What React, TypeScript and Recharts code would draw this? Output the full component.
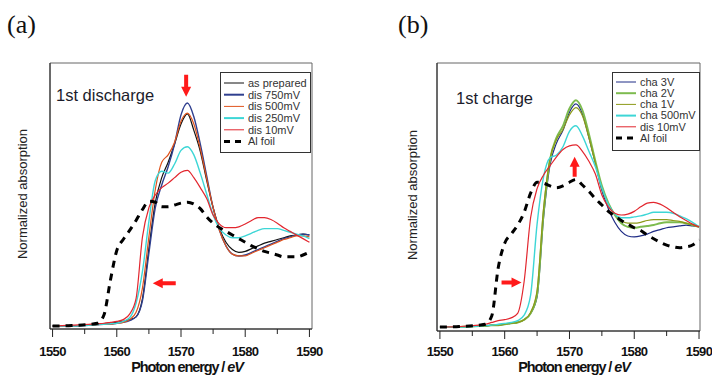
import { Line, LineChart, ReferenceArea, ReferenceDot, ReferenceLine, XAxis, YAxis } from 'recharts'

const FONT = "'Liberation Sans', Arial, sans-serif"

// photon energy grid (eV)
const energies = [
  1550, 1553, 1556, 1557, 1558, 1559, 1560, 1561, 1562, 1563, 1564, 1565, 1566, 1567, 1568, 1569, 1570, 1571, 1572,
  1573, 1574, 1575, 1576, 1577, 1578, 1579, 1580, 1581, 1582, 1583, 1584, 1585, 1586, 1587, 1588, 1589, 1590,
]
const xTicks = [1550, 1555, 1560, 1565, 1570, 1575, 1580, 1585, 1590]

// (a) 1st discharge
const asPrepared = [
  0, 0, 0.01, 0.015, 0.02, 0.03, 0.04, 0.05, 0.07, 0.1, 0.3, 0.85, 1.36, 1.63, 1.8, 2.0, 2.22, 2.33, 2.15, 1.92, 1.6,
  1.3, 1.07, 0.92, 0.84, 0.81, 0.82, 0.85, 0.88, 0.91, 0.93, 0.95, 0.97, 0.99, 1.0, 1.01, 1.0,
]
const dis750 = [
  0, 0, 0.01, 0.015, 0.02, 0.02, 0.03, 0.04, 0.06, 0.1, 0.28, 0.8, 1.3, 1.55, 1.75, 2.0, 2.32, 2.45, 2.3, 2.0, 1.65,
  1.3, 1.05, 0.88, 0.79, 0.77, 0.78, 0.81, 0.84, 0.87, 0.9, 0.93, 0.96, 0.98, 1.0, 1.01, 1.0,
]
const dis500 = [
  0, 0, 0.01, 0.015, 0.02, 0.02, 0.03, 0.04, 0.07, 0.15, 0.42, 0.98, 1.5, 1.8, 1.88, 2.02, 2.25, 2.34, 2.22, 1.95,
  1.62, 1.3, 1.05, 0.88, 0.79, 0.77, 0.77, 0.8, 0.83, 0.86, 0.89, 0.92, 0.95, 0.97, 0.99, 0.99, 0.98,
]
const dis250 = [
  0, 0, 0.01, 0.015, 0.02, 0.025, 0.03, 0.05, 0.09, 0.25, 0.6, 1.15, 1.6, 1.7, 1.68, 1.78, 1.93, 1.97, 1.88, 1.68,
  1.45, 1.22, 1.07, 1.0, 0.97, 0.97, 0.99, 1.02, 1.05, 1.07, 1.07, 1.07, 1.05, 1.03, 1.01, 0.99, 0.96,
]
const dis10A = [
  0, 0.01, 0.02, 0.025, 0.03, 0.04, 0.05, 0.07, 0.13, 0.3, 0.98, 1.3, 1.44, 1.52, 1.57, 1.63, 1.69, 1.71, 1.63, 1.52,
  1.4, 1.22, 1.12, 1.08, 1.08, 1.09, 1.12, 1.16, 1.19, 1.19, 1.17, 1.13, 1.08, 1.04, 1.0, 0.96, 0.92,
]
const alFoilA = [
  0, 0.005, 0.02, 0.03, 0.12, 0.5, 0.83, 0.95, 1.05, 1.16, 1.28, 1.37, 1.36, 1.31, 1.31, 1.33, 1.35, 1.36, 1.34, 1.29,
  1.2, 1.13, 1.08, 1.04, 1.0, 0.96, 0.92, 0.88, 0.85, 0.82, 0.8, 0.78, 0.76, 0.76, 0.76, 0.78, 0.81,
]

// (b) 1st charge
const cha3V = [
  0, 0, 0.01, 0.01, 0.02, 0.02, 0.03, 0.04, 0.05, 0.08, 0.15, 0.33, 1.2, 1.78, 2.02, 2.16, 2.36, 2.45, 2.34, 2.08, 1.8,
  1.5, 1.3, 1.15, 1.05, 1.0, 0.99, 1.0, 1.02, 1.05, 1.07, 1.09, 1.1, 1.11, 1.12, 1.11, 1.1,
]
const cha2V = [
  0, 0, 0.01, 0.01, 0.02, 0.02, 0.03, 0.04, 0.05, 0.08, 0.15, 0.36, 1.25, 1.84, 2.08, 2.21, 2.4, 2.49, 2.38, 2.12,
  1.82, 1.55, 1.36, 1.23, 1.14, 1.1, 1.09, 1.1, 1.11, 1.12, 1.14, 1.15, 1.15, 1.15, 1.14, 1.12, 1.1,
]
const cha1V = [
  0, 0, 0.01, 0.01, 0.02, 0.02, 0.03, 0.04, 0.05, 0.08, 0.16, 0.4, 1.3, 1.85, 2.06, 2.17, 2.33, 2.41, 2.32, 2.08, 1.8,
  1.52, 1.35, 1.24, 1.17, 1.14, 1.14, 1.15, 1.17, 1.18, 1.18, 1.18, 1.17, 1.16, 1.14, 1.12, 1.1,
]
const cha500 = [
  0, 0, 0.01, 0.015, 0.02, 0.03, 0.04, 0.05, 0.07, 0.13, 0.35, 1.13, 1.65, 1.86, 1.89, 1.98, 2.15, 2.21, 2.1, 1.93,
  1.76, 1.53, 1.35, 1.24, 1.2, 1.2, 1.21, 1.22, 1.24, 1.26, 1.26, 1.26, 1.25, 1.22, 1.19, 1.15, 1.1,
]
const dis10B = [
  0, 0.005, 0.02, 0.03, 0.05, 0.07, 0.08, 0.1, 0.15, 0.5, 1.2, 1.52, 1.67, 1.77, 1.87, 1.95, 1.99, 2.0, 1.93, 1.82,
  1.68, 1.45, 1.32, 1.25, 1.23, 1.24, 1.27, 1.32, 1.36, 1.37, 1.35, 1.31, 1.26, 1.21, 1.17, 1.13, 1.1,
]
const alFoilB = [
  0, 0.005, 0.02, 0.03, 0.12, 0.65, 0.92, 1.02, 1.12, 1.26, 1.47, 1.59, 1.58, 1.55, 1.53, 1.55, 1.59, 1.62, 1.56, 1.49,
  1.41, 1.34, 1.27, 1.22, 1.17, 1.13, 1.09, 1.06, 1.01, 0.97, 0.93, 0.9, 0.88, 0.87, 0.88, 0.9, 0.96,
]

type Series = {
  key: string
  name: string
  values: number[]
  color: string
  width: number
  legendWidth: number
  dash?: string
}

type Arrow = { x: number; y: number; dir: 'up' | 'down' | 'left' | 'right'; len: number }

type PanelConfig = {
  tag: string
  title: string
  series: Series[]
  arrows: Arrow[]
  left: number
  width: number
  margin: { top: number; right: number; bottom: number; left: number }
  xDomain: [number, number]
  yDomain: [number, number]
  labelDy: number
  tagX: number
  titleX: number
  titleY: number
  yLabelX: number
  xTitleX: number
  legend: { x: number; y: number; w: number; h: number; rowY: number; pitch: number }
}

const foil = (values: number[]): Series => ({
  key: 'al',
  name: 'Al foil',
  values,
  color: '#000',
  width: 3,
  legendWidth: 3,
  dash: '7 6',
})

const panels: PanelConfig[] = [
  {
    tag: '(a)',
    title: '1st discharge',
    series: [
      { key: 'p', name: 'as prepared', values: asPrepared, color: '#111', width: 1.2, legendWidth: 1 },
      { key: 'd750', name: 'dis 750mV', values: dis750, color: '#2f3f8f', width: 1.4, legendWidth: 2 },
      { key: 'd500', name: 'dis 500mV', values: dis500, color: '#e0531c', width: 1.2, legendWidth: 1 },
      { key: 'd250', name: 'dis 250mV', values: dis250, color: '#3dd6d6', width: 1.4, legendWidth: 2 },
      { key: 'd10', name: 'dis 10mV', values: dis10A, color: '#e2262e', width: 1.2, legendWidth: 1 },
      foil(alFoilA),
    ],
    arrows: [
      { x: 1570.8, y: 2.52, dir: 'down', len: 22 },
      { x: 1565.6, y: 0.47, dir: 'left', len: 23 },
    ],
    left: 0,
    width: 356,
    margin: { top: 63, right: 44, bottom: 17, left: 50 },
    xDomain: [1549.6, 1590.4],
    yDomain: [-0.033, 2.89],
    labelDy: 27,
    tagX: 7,
    titleX: 56,
    titleY: 86,
    yLabelX: 23,
    xTitleX: 187,
    legend: { x: 220, y: 72, w: 90, h: 80, rowY: 83, pitch: 11.7 },
  },
  {
    tag: '(b)',
    title: '1st charge',
    series: [
      { key: 'c3', name: 'cha 3V', values: cha3V, color: '#1f2c86', width: 1.2, legendWidth: 1 },
      { key: 'c2', name: 'cha 2V', values: cha2V, color: '#7dbb4f', width: 2, legendWidth: 2 },
      { key: 'c1', name: 'cha 1V', values: cha1V, color: '#8c9a18', width: 1.2, legendWidth: 1 },
      { key: 'c500', name: 'cha 500mV', values: cha500, color: '#3dd6d6', width: 1.4, legendWidth: 2 },
      { key: 'd10', name: 'dis 10mV', values: dis10B, color: '#e2262e', width: 1.2, legendWidth: 1 },
      foil(alFoilB),
    ],
    arrows: [
      { x: 1570.8, y: 1.87, dir: 'up', len: 20 },
      { x: 1562.6, y: 0.49, dir: 'right', len: 20 },
    ],
    left: 356,
    width: 356,
    margin: { top: 63, right: 12, bottom: 15, left: 81 },
    xDomain: [1549.55, 1590.15],
    yDomain: [-0.044, 2.9],
    labelDy: 25,
    tagX: 398,
    titleX: 456,
    titleY: 89,
    yLabelX: 413,
    xTitleX: 574,
    legend: { x: 612, y: 72, w: 87, h: 78, rowY: 82, pitch: 11.2 },
  },
]

function EnergyTick(props: any) {
  const { x, y, payload, labelDy } = props
  const major = payload.value % 10 === 0
  return (
    <g>
      <line x1={x} y1={y} x2={x} y2={y + (major ? 8 : 5)} stroke="#222" />
      {major && (
        <text
          x={x}
          y={y + labelDy}
          textAnchor="middle"
          fontFamily={FONT}
          fontWeight="bold"
          fontSize={13}
          letterSpacing={-0.6}
          fill="#111"
        >
          {payload.value}
        </text>
      )}
    </g>
  )
}

function ArrowShape(props: any) {
  const { cx, cy, dir, len } = props
  if (cx == null || cy == null) return <g />
  const head = 10
  const hw = 5
  const sw = 2
  // arrow pointing +x with its tip at the origin
  const pts = [
    [0, 0],
    [-head, -hw],
    [-head, -sw],
    [-len, -sw],
    [-len, sw],
    [-head, sw],
    [-head, hw],
  ]
  const rot = { right: 0, down: 90, left: 180, up: 270 }[dir as 'up'] as number
  return (
    <polygon
      points={pts.map((p) => p.join(',')).join(' ')}
      transform={`translate(${cx},${cy}) rotate(${rot})`}
      fill="#ff1a1a"
    />
  )
}

function Legend({ cfg }: { cfg: PanelConfig }) {
  const { x, y, w, h, rowY, pitch } = cfg.legend
  return (
    <svg style={{ position: 'absolute', left: x, top: y }} width={w + 1} height={h + 1}>
      <rect x={0.5} y={0.5} width={w} height={h} fill="#fff" stroke="#333" />
      {cfg.series.map((s, i) => {
        const cy = rowY - y + i * pitch
        return (
          <g key={s.key}>
            <line
              x1={4}
              x2={24}
              y1={cy}
              y2={cy}
              stroke={s.color}
              strokeWidth={s.legendWidth}
              strokeDasharray={s.dash ? '6 5' : undefined}
            />
            <text x={28} y={cy + 3.8} fontFamily={FONT} fontSize={11} fill="#333">
              {s.name}
            </text>
          </g>
        )
      })}
    </svg>
  )
}

function Panel({ cfg }: { cfg: PanelConfig }) {
  const data = energies.map((e, i) => {
    const row: Record<string, number> = { e }
    cfg.series.forEach((s) => {
      row[s.key] = s.values[i]
    })
    return row
  })
  const plotTop = cfg.margin.top
  const plotBottom = 376 - cfg.margin.bottom - 30
  const yCenter = (plotTop + plotBottom) / 2 - 2

  return (
    <>
      <div style={{ position: 'absolute', left: cfg.left, top: 0 }}>
        <LineChart width={cfg.width} height={376} data={data} margin={cfg.margin}>
          <XAxis
            type="number"
            dataKey="e"
            domain={cfg.xDomain}
            ticks={xTicks}
            interval={0}
            allowDataOverflow
            height={30}
            tickSize={0}
            tickMargin={0}
            tickLine={false}
            axisLine={{ stroke: '#222' }}
            tick={<EnergyTick labelDy={cfg.labelDy} />}
          />
          <YAxis type="number" hide domain={cfg.yDomain} allowDataOverflow />
          <ReferenceArea
            x1={cfg.xDomain[0]}
            x2={cfg.xDomain[1]}
            y1={cfg.yDomain[0]}
            y2={cfg.yDomain[1]}
            fill="none"
            stroke="#666"
            strokeWidth={1}
          />
          <ReferenceLine x={cfg.xDomain[0]} stroke="#222" />
          {cfg.series.map((s) => (
            <Line
              key={s.key}
              type="monotone"
              dataKey={s.key}
              stroke={s.color}
              strokeWidth={s.width}
              strokeDasharray={s.dash}
              dot={false}
              isAnimationActive={false}
            />
          ))}
          {cfg.arrows.map((a, i) => (
            <ReferenceDot
              key={i}
              x={a.x}
              y={a.y}
              r={0}
              shape={(p: any) => <ArrowShape {...p} dir={a.dir} len={a.len} />}
            />
          ))}
        </LineChart>
      </div>
      <div
        style={{
          position: 'absolute',
          left: cfg.tagX,
          top: 10,
          fontFamily: "'Liberation Serif', 'Times New Roman', serif",
          fontSize: 26,
          lineHeight: '30px',
          color: '#111',
        }}
      >
        {cfg.tag}
      </div>
      <div
        style={{
          position: 'absolute',
          left: cfg.titleX,
          top: cfg.titleY,
          fontFamily: FONT,
          fontSize: 16.5,
          lineHeight: '18px',
          color: '#1c1c2c',
          whiteSpace: 'nowrap',
        }}
      >
        {cfg.title}
      </div>
      <div
        style={{
          position: 'absolute',
          left: cfg.yLabelX - 100,
          top: yCenter - 8,
          width: 200,
          height: 16,
          lineHeight: '16px',
          textAlign: 'center',
          transform: 'rotate(-90deg)',
          fontFamily: FONT,
          fontSize: 13,
          color: '#222',
          whiteSpace: 'nowrap',
        }}
      >
        Normalized absorption
      </div>
      <div
        style={{
          position: 'absolute',
          left: cfg.xTitleX - 100,
          top: 360,
          width: 200,
          textAlign: 'center',
          fontFamily: FONT,
          fontWeight: 'bold',
          fontSize: 14.5,
          lineHeight: '15px',
          letterSpacing: -1.1,
          color: '#111',
          whiteSpace: 'nowrap',
        }}
      >
        Photon energy / <i>eV</i>
      </div>
      <Legend cfg={cfg} />
    </>
  )
}

export default function App() {
  return (
    <div
      style={{
        position: 'absolute',
        left: 0,
        top: 0,
        width: 712,
        height: 376,
        background: '#fff',
        overflow: 'hidden',
      }}
    >
      {panels.map((p) => (
        <Panel key={p.tag} cfg={p} />
      ))}
    </div>
  )
}
